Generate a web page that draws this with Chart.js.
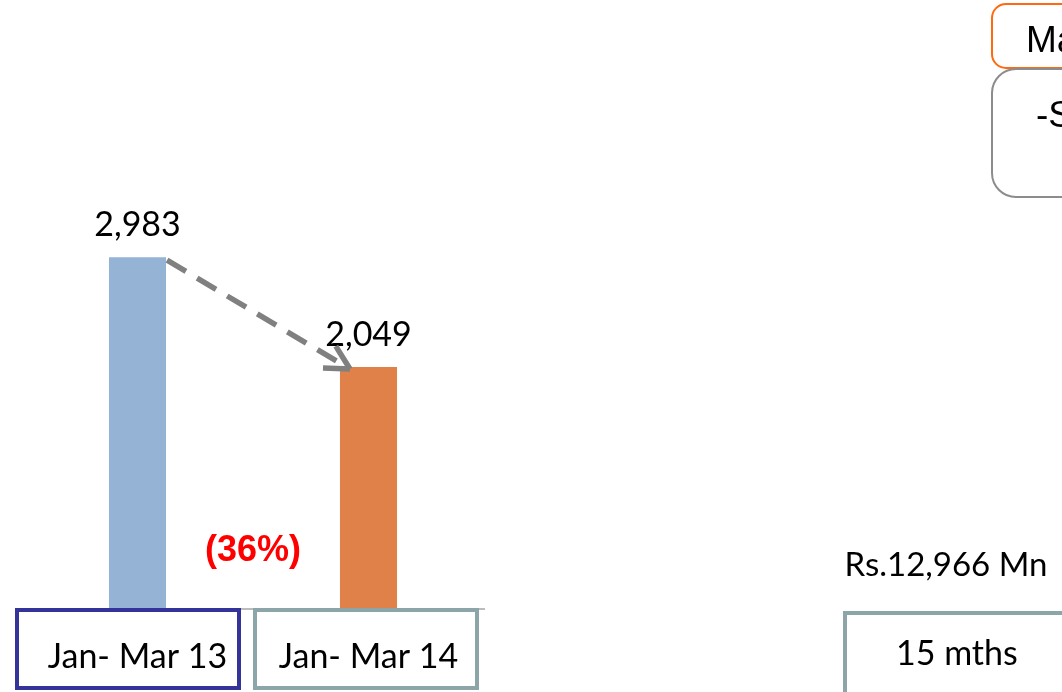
<!DOCTYPE html>
<html>
<head>
<meta charset="utf-8">
<script src="https://cdn.jsdelivr.net/npm/chart.js@4"></script>
<style>
  html, body { margin: 0; padding: 0; background: #fff; }
  #wrap { width: 1062px; height: 692px; position: relative; overflow: hidden; }
</style>
</head>
<body>
<div id="wrap"><canvas id="chart" width="1062" height="692"></canvas></div>
<script>
// ─── Data ──────────────────────────────────────────────
const periods    = ['Jan- Mar 13', 'Jan- Mar 14'];
const sales      = [2983, 2049];
const barColors  = ['#95B3D4', '#DF8148'];
const boxColors  = ['#333399', '#8BA5A8'];
const changeText = '(36%)';
const totalText  = 'Rs.12,966 Mn';
const spanText   = '15 mths';
const headText   = ['Ma', '-S'];

const CAL = '"Lato", "Open Sans", sans-serif';
const ARIAL = '"Liberation Sans", Arial, sans-serif';

function fmt(v) { return v.toLocaleString('en-US'); }

// ─── Overlay plugin: boxes, labels, arrow ──────────────
const slideDecor = {
  id: 'slideDecor',
  afterDatasetsDraw(chart) {
    const ctx  = chart.ctx;
    const area = chart.chartArea;
    const ys   = chart.scales.y;
    const bars = chart.getDatasetMeta(0).data;
    const y0   = ys.getPixelForValue(0);

    ctx.save();

    // baseline
    ctx.strokeStyle = '#A6A6A6';
    ctx.lineWidth = 1.5;
    ctx.beginPath();
    ctx.moveTo(area.left, y0 + 1);
    ctx.lineTo(area.right + 1, y0 + 1);
    ctx.stroke();

    // category boxes + labels
    const boxLeft = [17, 255];
    bars.forEach((b, i) => {
      ctx.fillStyle = '#fff';
      ctx.fillRect(boxLeft[i], y0 + 2, 222, 78);
      ctx.strokeStyle = boxColors[i];
      ctx.lineWidth = 4;
      ctx.strokeRect(boxLeft[i], y0 + 2, 222, 78);

      ctx.fillStyle = '#000';
      ctx.font = '34px ' + CAL;
      ctx.textAlign = 'center';
      ctx.textBaseline = 'alphabetic';
      ctx.fillText(periods[i], b.x, y0 + 60);

      // value label
      ctx.fillText(fmt(sales[i]), b.x, b.y - 21);
    });

    // dashed arrow between bar tops
    const a = bars[0], c = bars[1];
    const sx = a.x + a.width / 2 + 1, sy = a.y + 3;
    const ex = c.x - c.width / 2 + 10, ey = c.y + 2;
    ctx.strokeStyle = '#808080';
    ctx.lineWidth = 5.5;
    ctx.setLineDash([22, 13]);
    ctx.beginPath();
    ctx.moveTo(sx, sy);
    ctx.lineTo(ex, ey);
    ctx.stroke();
    ctx.setLineDash([]);
    const ang = Math.atan2(sy - ey, sx - ex);
    [-0.5, 0.48].forEach(d => {
      ctx.beginPath();
      ctx.moveTo(ex, ey);
      ctx.lineTo(ex + 27 * Math.cos(ang + d), ey + 27 * Math.sin(ang + d));
      ctx.stroke();
    });

    // change label
    ctx.fillStyle = '#FF0000';
    ctx.font = 'bold 36px ' + ARIAL;
    ctx.textAlign = 'center';
    ctx.fillText(changeText, (a.x + c.x) / 2, 561);

    // right side: total and span box
    ctx.fillStyle = '#000';
    ctx.font = '33px ' + CAL;
    ctx.fillText(totalText, 946, 576);

    ctx.fillStyle = '#fff';
    ctx.fillRect(845, 613, 240, 90);
    ctx.strokeStyle = '#8BA5A8';
    ctx.lineWidth = 4;
    ctx.strokeRect(845, 613, 240, 90);
    ctx.fillStyle = '#000';
    ctx.font = '34px ' + CAL;
    ctx.textAlign = 'left';
    ctx.fillText(spanText, 896, 665);

    // top-right rounded boxes
    ctx.lineWidth = 2;
    ctx.strokeStyle = '#FF6A10';
    ctx.beginPath();
    ctx.roundRect(992, 4, 120, 64, 14);
    ctx.stroke();
    ctx.strokeStyle = '#8C8C8C';
    ctx.beginPath();
    ctx.roundRect(992, 69, 120, 128, 24);
    ctx.stroke();

    ctx.fillStyle = '#000';
    ctx.font = '37px ' + ARIAL;
    ctx.fillText(headText[0], 1026, 52);
    ctx.fillText(headText[1], 1036, 127);

    ctx.restore();
  }
};

// ─── Chart ──────────────────────────────────────────────
new Chart(document.getElementById('chart'), {
  type: 'bar',
  data: {
    labels: periods,
    datasets: [{
      data: sales,
      backgroundColor: barColors,
      borderWidth: 0,
      barPercentage: 0.247,
      categoryPercentage: 1,
    }],
  },
  options: {
    responsive: false,
    animation: false,
    devicePixelRatio: 1,
    layout: { padding: { left: 22, right: 578, top: 20, bottom: 84 } },
    plugins: { legend: { display: false }, tooltip: { enabled: false } },
    scales: {
      x: { display: false },
      y: { display: false, min: 0, max: 5000 },
    },
  },
  plugins: [slideDecor],
});
</script>
</body>
</html>
